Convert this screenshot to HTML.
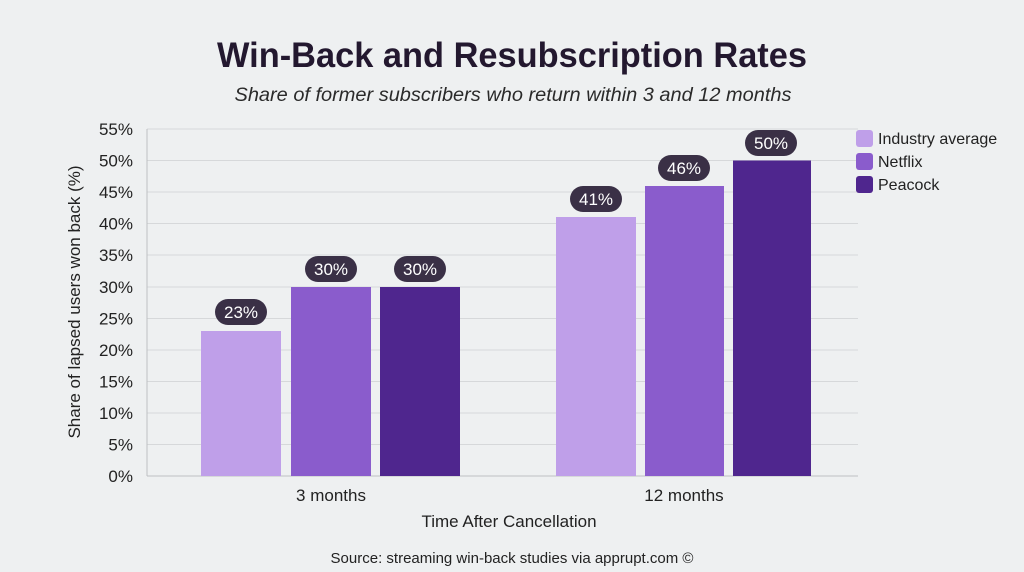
<!DOCTYPE html>
<html><head><meta charset="utf-8"><style>
html,body{margin:0;padding:0;background:#eef0f1;}
svg{display:block;font-family:"Liberation Sans",sans-serif;}
</style></head><body>
<svg width="1024" height="572" viewBox="0 0 1024 572" xmlns="http://www.w3.org/2000/svg">
<rect width="1024" height="572" fill="#eef0f1"/>
<text x="512" y="67" text-anchor="middle" font-size="35" font-weight="bold" fill="#23182f" textLength="590" lengthAdjust="spacingAndGlyphs">Win-Back and Resubscription Rates</text>
<text x="513" y="101" text-anchor="middle" font-size="19" font-style="italic" fill="#2a2a2a" textLength="557" lengthAdjust="spacingAndGlyphs">Share of former subscribers who return within 3 and 12 months</text>
<g stroke="#d6d8da" stroke-width="1">
<line x1="147" x2="858" y1="129" y2="129"/><line x1="147" x2="858" y1="160.5" y2="160.5"/>
<line x1="147" x2="858" y1="192" y2="192"/><line x1="147" x2="858" y1="223.5" y2="223.5"/>
<line x1="147" x2="858" y1="255" y2="255"/><line x1="147" x2="858" y1="287" y2="287"/>
<line x1="147" x2="858" y1="318.5" y2="318.5"/><line x1="147" x2="858" y1="350" y2="350"/>
<line x1="147" x2="858" y1="381.5" y2="381.5"/><line x1="147" x2="858" y1="413" y2="413"/>
<line x1="147" x2="858" y1="444.5" y2="444.5"/>
</g>
<line x1="147" x2="147" y1="129" y2="476" stroke="#bdbfc2"/>
<line x1="147" x2="858" y1="476" y2="476" stroke="#bdbfc2"/>
<g font-size="17" fill="#222" text-anchor="end">
<text x="133" y="135">55%</text><text x="133" y="166.5">50%</text><text x="133" y="198">45%</text>
<text x="133" y="229.5">40%</text><text x="133" y="261">35%</text><text x="133" y="293">30%</text>
<text x="133" y="324.5">25%</text><text x="133" y="356">20%</text><text x="133" y="387.5">15%</text>
<text x="133" y="419">10%</text><text x="133" y="450.5">5%</text><text x="133" y="482">0%</text>
</g>
<text transform="translate(80,302) rotate(-90)" text-anchor="middle" font-size="17" fill="#222">Share of lapsed users won back (%)</text>
<rect x="201" y="331" width="80" height="145" fill="#bf9fe9"/>
<rect x="291" y="287" width="80" height="189" fill="#8a5ccc"/>
<rect x="380" y="287" width="80" height="189" fill="#4f268e"/>
<rect x="556" y="217" width="80" height="259" fill="#bf9fe9"/>
<rect x="645" y="186" width="79" height="290" fill="#8a5ccc"/>
<rect x="733" y="160.5" width="78" height="315.5" fill="#4f268e"/>
<g fill="#3a3046">
<rect x="215" y="299" width="52" height="26" rx="13"/>
<rect x="305" y="256" width="52" height="26" rx="13"/>
<rect x="394" y="256" width="52" height="26" rx="13"/>
<rect x="570" y="186" width="52" height="26" rx="13"/>
<rect x="658" y="155" width="52" height="26" rx="13"/>
<rect x="745" y="130" width="52" height="26" rx="13"/>
</g>
<g fill="#fff" font-size="17" text-anchor="middle">
<text x="241" y="318">23%</text><text x="331" y="275">30%</text><text x="420" y="275">30%</text>
<text x="596" y="205">41%</text><text x="684" y="174">46%</text><text x="771" y="149">50%</text>
</g>
<g font-size="17" fill="#222" text-anchor="middle">
<text x="331" y="501">3 months</text><text x="684" y="501">12 months</text>
<text x="509" y="527">Time After Cancellation</text>
</g>
<rect x="856" y="130" width="17" height="17" rx="3" fill="#bf9fe9"/>
<rect x="856" y="153" width="17" height="17" rx="3" fill="#8a5ccc"/>
<rect x="856" y="176" width="17" height="17" rx="3" fill="#4f268e"/>
<g font-size="16" fill="#222">
<text x="878" y="144">Industry average</text><text x="878" y="167">Netflix</text><text x="878" y="190">Peacock</text>
</g>
<text x="512" y="563" text-anchor="middle" font-size="15" fill="#222">Source: streaming win-back studies via apprupt.com ©</text>
</svg>
</body></html>
